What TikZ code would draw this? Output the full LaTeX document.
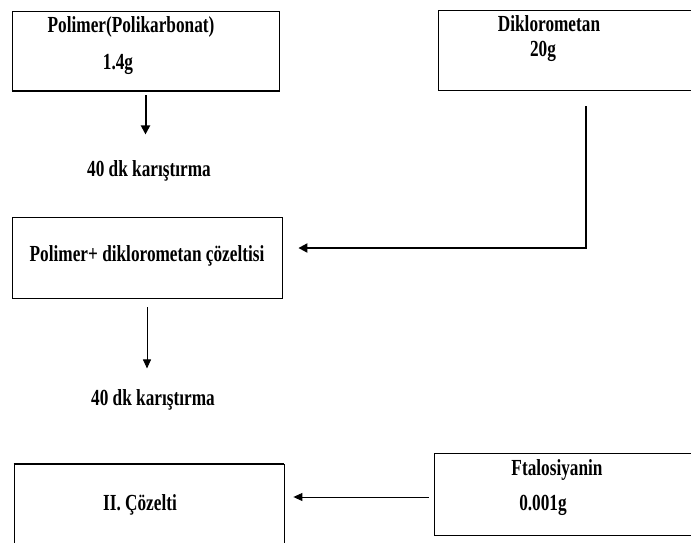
\documentclass[tikz,border=0pt]{standalone}
\usepackage{fontspec}
\setmainfont[FakeStretch=0.75]{Liberation Serif}
\usetikzlibrary{arrows.meta}

\begin{document}
\begin{tikzpicture}[x=1pt, y=-1pt,
	kutu/.style={draw=black, line width=0.8pt, inner sep=0pt},
	yazi/.style={inner sep=0pt, font=\bfseries\fontsize{23}{26}\selectfont},
	kalinok/.style={line width=2pt, -{Triangle[length=9pt, width=9pt]}},
	inceok/.style={line width=0.9pt, -{Triangle[length=9pt, width=8pt]}}]
	\useasboundingbox (0,0) rectangle (691,543);
	\fill[white] (0,0) rectangle (691,543);
	\begin{scope}
		\clip (0,0) rectangle (691,543);
		% kutular
		\node[kutu, minimum width=267, minimum height=80] (polimer) at (145.5,51) {};
		\node[kutu, minimum width=262, minimum height=80] (dikloro) at (569,50) {};
		\node[kutu, minimum width=270, minimum height=81] (cozelti) at (147,257.5) {};
		\node[kutu, minimum width=270, minimum height=96] (cozelti2) at (149,512) {};
		\node[kutu, minimum width=266, minimum height=82] (ftalo) at (567,494) {};
		\draw[line width=2pt] (polimer.south west) -- (polimer.south east);
		\draw[line width=2pt] (cozelti2.north west) -- (cozelti2.north east);

		% yazilar
		\node[yazi] (polimerad) at (131,27) {Polimer(Polikarbonat)};
		\node[yazi] (polimermik) at (118,64) {1.4g};
		\node[yazi] (diklorad) at (549,24) {Diklorometan};
		\node[yazi] (diklormik) at (543,51) {20g};
		\node[yazi] (cozeltiad) at (147,256) {Polimer+ diklorometan çözeltisi};
		\node[yazi] (cozelti2ad) at (140,505) {II. Çözelti};
		\node[yazi] (ftaload) at (557,470) {Ftalosiyanin};
		\node[yazi] (ftalomik) at (543,505) {0.001g};
		\node[yazi] (karistir1) at (149,171) {40 dk karıştırma};
		\node[yazi] (karistir2) at (153,400) {40 dk karıştırma};

		% oklar
		\coordinate (donus) at (586,248);
		\coordinate (altok) at (0,497);
		\draw[kalinok, shorten <=4pt, shorten >=26pt] (polimer.south) -- (polimer.south |- karistir1.north);
		\draw[kalinok, shorten <=16pt, shorten >=16pt] (dikloro.south -| donus) -- (donus) -- (cozelti.east |- donus);
		\draw[inceok, shorten <=9pt, shorten >=21pt] (cozelti.south) -- (cozelti.south |- karistir2.north);
		\draw[inceok, shorten <=5pt, shorten >=9pt] (ftalo.west |- altok) -- (cozelti2.east |- altok);
	\end{scope}
\end{tikzpicture}
\end{document}
